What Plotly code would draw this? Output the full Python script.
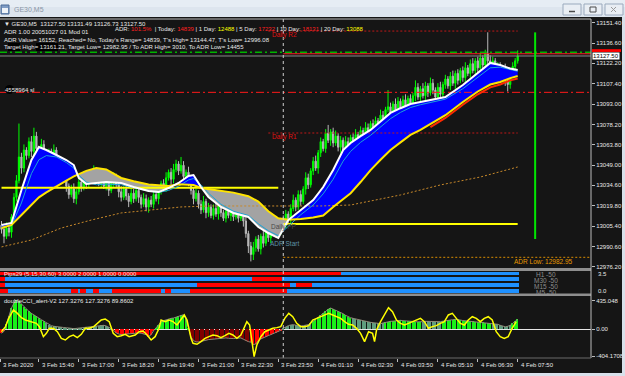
import plotly.graph_objects as go

# ---------------- data ----------------
bar_index = list(range(208))
first_open = 13006.0
closes = [
13003,12998,13004,13001,13012,13026,13038,13055,13047,13060,
13056,13066,13059,13070,13061,13056,13064,13057,13051,13058,
13049,13060,13052,13045,13049,13040,13034,13028,13032,13025,
13030,13037,13033,13041,13036,13043,13039,13045,13040,13036,
13041,13034,13038,13031,13036,13041,13035,13030,13026,13032,
13027,13023,13029,13025,13031,13026,13021,13025,13019,13024,
13021,13028,13025,13031,13036,13033,13040,13044,13039,13046,
13050,13045,13049,13041,13044,13036,13031,13025,13029,13021,
13017,13023,13015,13019,13013,13018,13014,13020,13015,13011,
13016,13013,13018,13012,13016,13011,13017,13009,13000,12991,
12985,12990,12996,12989,12998,12993,13001,12997,13004,13000,
13007,13003,13009,13006,13014,13010,13018,13024,13019,13028,
13023,13032,13040,13035,13045,13052,13047,13058,13066,13061,
13072,13067,13073,13065,13070,13062,13067,13060,13066,13062,
13069,13064,13071,13066,13074,13069,13076,13071,13079,13074,
13081,13076,13085,13080,13089,13091,13086,13093,13088,13095,
13090,13096,13091,13097,13092,13099,13105,13098,13104,13099,
13106,13101,13108,13103,13098,13105,13100,13107,13111,13106,
13113,13108,13115,13110,13117,13112,13119,13115,13122,13117,
13124,13119,13126,13121,13129,13124,13119,13124,13115,13120,
13112,13118,13110,13107,13114,13120,13124,13127.5]
upper_wick = [
3,2,4,3,2,3,4,24,3,4, 2,3,4,6,3,2,4,3,2,3, 3,4,2,3,4,2,3,2,3,4,
2,3,2,4,3,2,3,4,2,3, 3,2,4,3,2,3,2,3,4,2, 3,2,4,3,2,3,2,4,3,2,
3,4,2,3,2,3,4,2,3,4, 3,2,6,3,2,4,3,2,3,2, 3,4,2,3,2,3,4,2,3,2,
3,2,4,3,2,3,4,2,3,2, 3,4,2,3,2,4,3,2,3,4, 2,3,2,4,3,2,3,4,2,3,
3,2,4,3,2,3,4,2,3,2, 3,6,2,3,4,2,3,2,4,3, 2,3,4,2,3,2,4,3,2,3,
3,2,4,3,2,12,3,2,4,3, 2,3,4,2,3,2,5,3,2,4, 3,2,4,3,2,3,4,2,3,2,
3,4,2,3,2,3,4,2,3,4, 2,3,4,2,3,15.5,4,3,2,3, 3,2,4,3,2,3,2,4]
lower_wick = [
3,5,2,3,4,2,3,2,4,3, 3,2,4,3,2,4,3,2,3,4, 2,3,4,2,3,2,4,3,2,3,
4,2,3,2,4,3,2,3,4,2, 3,2,3,4,2,3,2,4,3,2, 3,4,2,3,2,4,3,2,3,4,
2,3,2,4,3,2,3,2,4,3, 2,3,2,4,3,2,3,4,2,3, 3,2,4,3,2,3,2,4,3,2,
3,2,4,3,2,3,2,4,3,5, 5,4,3,2,4,3,2,3,4,2, 3,2,4,3,2,3,4,2,3,2,
3,2,4,3,2,3,2,4,3,2, 3,2,4,3,2,3,4,2,3,2, 4,3,2,3,4,2,3,2,4,3,
2,3,4,2,3,2,4,3,2,3, 3,2,4,3,2,3,4,2,3,2, 4,3,2,3,2,4,3,2,3,2,
3,2,4,3,2,3,4,2,3,2, 3,4,2,3,2,3,2,4,3,2, 3,2,4,5,3,2,3,2]

ma_bars = [0,4,8,12,15,18,22,26,29,31,34,38,42,48,53,59,63,67,71,75,77,80,83,88,93,99,
           103,107,111,115,120,125,129,133,137,140,144,148,152,156,160,164,168,172,178,185,
           191,196,200,204,207]
ma_fast = [13006.2,13007.6,13031.3,13052.8,13062.1,13060.0,13056.4,13052.8,13049.2,13039.9,
           13035.6,13036.3,13037.0,13036.3,13033.4,13030.6,13029.8,13032.7,13036.3,13041.3,
           13042.0,13033.4,13026.3,13019.1,13014.8,13011.9,13004.7,13000.4,12996.8,13009.7,
           13016.9,13024.1,13033.4,13045.6,13060.0,13065.0,13070.0,13074.4,13080.5,13086.6,
           13090.0,13093.0,13094.5,13095.9,13098.0,13106.7,13115.3,13122.5,13121.0,13118.5,13117.4]
ma_slow = [13004.0,13006.2,13013.3,13020.5,13026.0,13029.5,13034.0,13038.0,13041.0,13042.5,
           13045.0,13047.1,13046.0,13039.9,13037.5,13035.2,13034.5,13034.2,13035.4,13035.2,
           13034.9,13032.7,13032.0,13031.0,13029.4,13026.8,13023.0,13016.0,13011.0,13010.0,
           13010.4,13011.5,13013.0,13019.1,13024.5,13029.0,13037.0,13045.6,13053.0,13060.0,
           13065.5,13070.8,13074.5,13078.5,13085.0,13094.5,13102.0,13107.0,13108.8,13111.6,13113.1]
ma_cyan = [13004.5,13005.5,13022,13043,13053,13056,13055,13051,13047,13042,13037,13035,13035.5,
           13035,13033,13030.5,13029.5,13031,13034,13038.5,13039.5,13035,13029,13021,13016,13013,
           13007,13002,12998.5,13005.5,13013.5,13020.5,13028.5,13039,13052,13059,13065.5,13070.5,
           13076.5,13082.5,13087,13090.5,13092.5,13094,13096.5,13104,13112,13119,13119.5,13117.5,13116.5]
ma_red_bars = [172,178,185,191,196,200,204,207]
ma_red = [13076.5,13083,13092.5,13100,13105,13107,13110,13111.4]
long_ma_bars = [0,12,24,36,48,60,72,84,100,113,128,140,160,176,192,207]
long_ma = [12990.4,12995.4,13004.0,13009.7,13014.8,13016.9,13019.1,13019.8,13019.8,13019.8,
           13019.8,13020.5,13027.7,13034.9,13040.6,13047.8]

sl_level = 13101.4
daily_r2 = 13145.4
daily_r1 = 13072.2
prev_level = 13032.9
today_level = 13006.9
adr_low = 12982.95
green_level = 13130.1
red_level = 13129.1
bid = 13127.50
t_high = 13144.47
t_low = 12996.08
day_start_bar = 113
pivot_start_bar = 107
last_bar = 207
prev_end_bar = 111
range_bar = 214

price_ticks = [13151.40,13136.60,13122.20,13107.40,13093.00,13078.20,13063.80,13049.00,
               13034.60,13019.80,13005.40,12990.60,12976.20]

xlab_bars = [-0.5,15,31,47,63,79,95,111,127,143,159,175,191,207]
xlab_text = ["3 Feb 2020","3 Feb 15:40","3 Feb 17:00","3 Feb 18:20","3 Feb 19:40","3 Feb 21:00",
             "3 Feb 22:30","3 Feb 23:50","4 Feb 01:10","4 Feb 02:30","4 Feb 03:50","4 Feb 05:10",
             "4 Feb 06:30","4 Feb 07:50"]

pips_rows = ["H1","M30","M15","M5"]
pips_row_val = [4,3,2,1]
pips_edges = [
    [-0.5,136,207.5],
    [-0.5,1.5,100.5,112.5,207.5],
    [-0.5,1.5,78.5,115.5,118,124.5,207.5],
    [-0.5,2.5,28,30.5,31.5,34,36.5,39,44.5,64,65.5,68,75.5,114.5,207.5]]
pips_state = [
    [0,1],
    [0,1,0,1],
    [0,1,0,1,0,1],
    [0,1,0,1,0,1,0,1,0,1,0,1,0,1]]

cci_hist = [
-60,-30,80,200,320,395,440,420,380,335,
300,270,240,220,200,170,145,120,95,70,
55,45,38,33,30,27,24,18,12,10,
14,18,20,26,30,35,40,45,50,55,
58,60,50,36,10,-15,-55,-70,-80,-75,
-70,-65,-60,-55,-50,-55,-60,-65,-80,-110,
-80,-20,25,70,110,130,145,155,165,170,
185,200,210,220,150,20,-115,-170,-190,-190,
-185,-175,-165,-155,-150,-145,-140,-138,-135,-132,
-130,-135,-140,-140,-135,-130,-130,-150,-170,-185,
-195,-230,-220,-170,-145,-125,-110,-95,-80,-65,
-52,-35,-15,15,40,55,65,70,62,55,
50,55,62,70,90,120,160,190,210,245,
275,300,320,305,290,275,255,235,210,190,
175,165,155,145,135,125,118,112,105,100,
95,90,85,95,105,115,120,122,128,132,
135,130,125,122,120,118,115,112,110,115,
120,118,115,112,110,112,115,122,130,135,
140,145,150,148,140,132,128,124,122,120,
115,110,108,104,100,100,95,90,85,75,
60,48,38,45,60,90,120,150]
cci_state_edges = [-0.5,1.5,17.5,44.5,61.5,75.5,99.5,112.5,124.5,140.5,153.5,168.5,176.5,196.5,204.5,207.5]
cci_state = ['dn','up','flat','dn','up','dn2','dn','flat','up','flat','up','flat','up','flat','up']
cci_fast_bars = [0,1.6,2.9,4,4.8,6.4,8,9.6,12,14,15.2,16,16.8,18,19.2,20.8,22.4,24,25.6,27.2,
 28.8,30.4,32,33.6,35.2,37,38.4,40,41.6,43.2,44.8,46.4,48,49.6,51.2,53.6,55.2,56.8,58.4,60,
 61.6,63.2,64,65.6,67.2,68.8,70.4,72,73.3,74.4,75.2,76,76.8,78.4,80,81.6,83.2,84.8,86.4,88,
 89.6,91.2,92.8,94.4,96,98.4,99.5,100.8,101.3,102.4,104,105.6,107.2,108.8,110.4,112,113.6,115.2,116.8,118.4,
 120,121.6,123.2,124.8,126.4,128,129.6,131.2,132.8,134.4,136,137.6,139.2,140.8,142.4,144,145.6,147.2,148.8,149.6,
 150.4,152,153.6,155.2,156.8,158.4,160,161.6,163.2,164.8,166.4,168,169.6,171.2,172.8,174.4,176,177.6,179.2,180.8,
 182.4,184,185.6,187.2,188.8,190.4,192,193.6,195.2,196.8,198.4,200,201.6,203.2,204.8,206.4]
cci_fast = [-36,40,165,240,291,240,175,140,115,90,40,-36,-111,-61,15,15,-36,-136,-161,-111,
 -86,-126,-76,15,15,40,90,140,155,115,-61,-111,-96,-76,-111,-86,-36,-26,-86,-161,
 -111,15,140,115,140,115,65,140,216,140,15,-136,-211,-226,-186,-136,-111,-86,-96,-126,
 -96,-61,-86,-136,-86,115,65,-287,-412,-237,-111,-36,-11,15,25,40,165,240,190,90,
 40,40,55,140,165,190,226,240,216,190,165,115,75,65,15,-61,-186,-36,-61,-186,
 -11,115,216,326,266,140,90,65,90,115,140,165,115,15,40,55,90,115,216,240,
 165,90,65,140,190,165,115,165,190,140,-36,-111,-136,-111,15,115]
cci_ticks = [435.048, 0.0, -404.1708]
cci_ticktext = ["435.048", "0.00", "-404.1708"]

assert len(closes) == len(upper_wick) == len(lower_wick) == len(bar_index) == len(cci_hist)
assert len(ma_bars) == len(ma_fast) == len(ma_slow) == len(ma_cyan)
assert len(cci_fast_bars) == len(cci_fast)

# ---------------- layout helpers ----------------
FONT = "Liberation Sans, Arial, sans-serif"
W, H = 625, 376
M = dict(l=0, r=34, t=19, b=18)
PW = W - M['l'] - M['r']
PH = H - M['t'] - M['b']
def xp(px): return (px - M['l']) / PW
def yp(py): return (H - M['b'] - py) / PH

BG = '#151515'
X_RANGE = [-0.6, 236.4]

fig = go.Figure()

# ---- MA ribbon fill ----
def runs_of(xs, a, b):
    runs, cur = [], None
    for i in range(len(xs)):
        s = a[i] >= b[i]
        if cur is None:
            cur = [s, [xs[i]], [a[i]], [b[i]]]
            continue
        if s != cur[0]:
            d0 = a[i-1] - b[i-1]; d1 = a[i] - b[i]
            t = d0 / (d0 - d1)
            xi = xs[i-1] + t * (xs[i] - xs[i-1])
            yi = a[i-1] + t * (a[i] - a[i-1])
            cur[1].append(xi); cur[2].append(yi); cur[3].append(yi)
            runs.append(cur)
            cur = [s, [xi, xs[i]], [yi, a[i]], [yi, b[i]]]
        else:
            cur[1].append(xs[i]); cur[2].append(a[i]); cur[3].append(b[i])
    runs.append(cur)
    return runs

runs = runs_of(ma_bars, ma_fast, ma_slow)
for want, col in ((True, '#0000ff'), (False, '#a3a3a3')):
    xs, ys = [], []
    for s, rx, ra, rb in runs:
        if s != want:
            continue
        xs += rx + rx[::-1] + [rx[0], None]
        ys += ra + rb[::-1] + [ra[0], None]
    fig.add_trace(go.Scatter(x=xs, y=ys, mode='lines', fill='toself', fillcolor=col,
                             line=dict(width=0), hoverinfo='skip'))

# long MA
fig.add_trace(go.Scatter(x=long_ma_bars, y=long_ma, mode='lines',
                         line=dict(color='#c8892a', width=1, dash='2px,2px'), hoverinfo='skip'))

def hline(x0, x1, y, color, width=1, dash='solid'):
    fig.add_trace(go.Scatter(x=[x0, x1], y=[y, y], mode='lines',
                             line=dict(color=color, width=width, dash=dash), hoverinfo='skip'))

hline(X_RANGE[0], X_RANGE[1], sl_level, '#ff1a1a', 1, '8px,3px,2px,3px')
hline(pivot_start_bar, last_bar, daily_r2, '#c01818', 1, '2px,2px')
hline(pivot_start_bar, last_bar, daily_r1, '#c01818', 1, '2px,2px')
hline(0, prev_end_bar, prev_level, '#ffff00', 2)
hline(day_start_bar, last_bar, today_level, '#ffff00', 2)
hline(day_start_bar, X_RANGE[1], adr_low, '#d98c00', 1, '2px,2px')
hline(X_RANGE[0], X_RANGE[1], bid, '#8a8a8a', 1)
hline(X_RANGE[0], X_RANGE[1], green_level, '#00b400', 1.5, '7px,3px,2px,3px')
hline(day_start_bar, X_RANGE[1], red_level, '#ff2020', 1)

# candles
opens = [first_open] + closes[:-1]
highs = [max(o, c) + u for o, c, u in zip(opens, closes, upper_wick)]
lows = [min(o, c) - l for o, c, l in zip(opens, closes, lower_wick)]
fig.add_trace(go.Candlestick(x=bar_index, open=opens, high=highs, low=lows, close=closes,
                             increasing=dict(line=dict(color='#00ff00', width=1), fillcolor='#00ff00'),
                             decreasing=dict(line=dict(color='#b8b8b8', width=1), fillcolor='#b8b8b8'),
                             whiskerwidth=0, hoverinfo='skip'))

# MA lines
fig.add_trace(go.Scatter(x=ma_bars, y=ma_cyan, mode='lines', line=dict(color='#1aa3d9', width=1), hoverinfo='skip'))
fig.add_trace(go.Scatter(x=ma_red_bars, y=ma_red, mode='lines', line=dict(color='#ff2a00', width=2), hoverinfo='skip'))
fig.add_trace(go.Scatter(x=ma_bars, y=ma_slow, mode='lines', line=dict(color='#ffe400', width=2), hoverinfo='skip'))
fig.add_trace(go.Scatter(x=ma_bars, y=ma_fast, mode='lines', line=dict(color='#ffffff', width=2), hoverinfo='skip'))

# today's range bar
fig.add_trace(go.Scatter(x=[range_bar, range_bar], y=[t_low, t_high], mode='lines',
                         line=dict(color='#00e600', width=2), hoverinfo='skip'))

# ---- Pips panel ----
for rv, edges, states in zip(pips_row_val, pips_edges, pips_state):
    starts = edges[:-1]
    lens = [b - a for a, b in zip(edges[:-1], edges[1:])]
    cols = ['#1e90ff' if s else '#ff0000' for s in states]
    fig.add_trace(go.Bar(orientation='h', y=[rv] * len(starts), x=lens, base=starts, width=0.58,
                         marker=dict(color=cols, line=dict(width=0)), xaxis='x', yaxis='y2',
                         hoverinfo='skip'))

# ---- CCI panel ----
state_col = {'up': '#19f019', 'flat': '#5f9d7e', 'dn': '#ff0000', 'dn2': '#800000'}
hist_cols = []
for i in bar_index:
    for k in range(len(cci_state)):
        if cci_state_edges[k] <= i < cci_state_edges[k + 1]:
            hist_cols.append(state_col[cci_state[k]])
            break
fig.add_trace(go.Bar(x=bar_index, y=cci_hist, width=0.6, marker=dict(color=hist_cols, line=dict(width=0)),
                     xaxis='x', yaxis='y3', hoverinfo='skip'))
fig.add_trace(go.Scatter(x=bar_index, y=cci_hist, mode='lines', line=dict(color='#8f8a78', width=1),
                         xaxis='x', yaxis='y3', hoverinfo='skip'))
fig.add_trace(go.Scatter(x=cci_fast_bars, y=cci_fast, mode='lines', line=dict(color='#ffff00', width=1.5),
                         xaxis='x', yaxis='y3', hoverinfo='skip'))

# ---------------- shapes ----------------
shapes = []
def prect(x0, y0, x1, y1, fill, line_color=None, lw=0, layer='above', typ='rect'):
    shapes.append(dict(type=typ, xref='paper', yref='paper', x0=xp(x0), x1=xp(x1), y0=yp(y1), y1=yp(y0),
                       fillcolor=fill, line=dict(color=line_color or fill, width=lw), layer=layer))
def pline(x0, y0, x1, y1, color, lw=1):
    shapes.append(dict(type='line', xref='paper', yref='paper', x0=xp(x0), x1=xp(x1), y0=yp(y0), y1=yp(y1),
                       line=dict(color=color, width=lw)))

# day separator
shapes.append(dict(type='line', xref='x', yref='paper', x0=day_start_bar, x1=day_start_bar, y0=0, y1=1,
                   line=dict(color='#d0d0d0', width=1, dash='3px,3px')))
# panel separators
prect(0, 268, 591, 271, '#8e8e8e')
prect(0, 293.5, 591, 296, '#8e8e8e')
# frame
pline(0, 19, 591, 19, '#bdbdbd')
pline(591, 19, 591, 358, '#bdbdbd')
pline(0, 358, 591, 358, '#6a6a6a')
# window chrome
prect(0, 0, 625, 17, '#dde5ee')
prect(0, 0, 625, 7, '#e6edf4')
prect(1, 5, 9, 14, '#7f9cc4', '#4a6a98', 1)
prect(2, 8, 8, 13, '#eef3f9')
prect(622, 17, 625, 376, '#d8e0ea')
prect(0, 373, 625, 376, '#d8e0ea')
for bx in (563, 584, 605):
    prect(bx, 4, bx + 18, 15, '#e9eef4', '#9aa9bd', 1)
pline(569, 11.5, 575, 11.5, '#4a4a4a', 1.5)
prect(590, 7, 596, 12, 'rgba(0,0,0,0)', '#4a4a4a', 1)
pline(611, 7, 616, 12, '#9a9a9a', 1)
pline(611, 12, 616, 7, '#9a9a9a', 1)
# current price box marker
shapes.append(dict(type='rect', xref='paper', yref='y', x0=xp(592), x1=xp(621), y0=13130.4, y1=13132.4,
                   fillcolor='#ff0000', line=dict(width=0)))
# censoring blobs
prect(8, 43, 20, 51, '#000000')
prect(36, 43, 58, 51, '#000000')
prect(5, 85, 14, 94, '#000000', typ='circle')

# ---------------- annotations ----------------
ann = []
def label(px, py, text, color='#e8e8e8', size=6, xanchor='left'):
    ann.append(dict(x=xp(px), y=yp(py), xref='paper', yref='paper', text=text, showarrow=False,
                    xanchor=xanchor, yanchor='middle', font=dict(size=size, color=color, family=FONT)))

label(12, 9.5, 'GE30,M5', '#8a96a6', 7)
label(2, 24, '▼ GE30,M5  13127.50 13131.49 13126.73 13127.50')
label(113, 29.3, "ADR: <span style='color:#ff2020'>101.5%</span>  | Today: <span style='color:#ff2020'>14839</span>"
      " | 1 Day: <span style='color:#ffff00'>12488</span> | 5 Day: <span style='color:#ff2020'>17232</span>"
      " | 10 Day: <span style='color:#ff2020'>18131</span> | 20 Day: <span style='color:#ffff00'>13088</span>")
label(2, 32.3, 'ADR 1.00 20051027 01 Mod 01')
label(2, 39.5, "ADR Value= 16152, Reached= No, Today's Range= 14839, T's High= 13144.47, T's Low= 12996.08")
label(2, 47.3, 'Target High= 13161.21, Target Low= 12982.95 / To ADR High= 3010, To ADR Low= 14455')
label(3, 89.5, '4558964 sl')
label(270, 35, 'Daily R2', '#e01010', 6.5)
label(270, 137, 'Daily R1', '#e01010', 6.5)
label(269, 227, 'Daily PP', '#4a4a4a', 6.5)
label(268, 243, 'ADR Start', '#5f93a6', 6.5)
label(512, 261.5, 'ADR Low: 12982.95', '#e69a00', 6.5)
ann.append(dict(x=xp(592), y=bid, xref='paper', yref='y', text='13127.50', showarrow=False, xanchor='left',
                yanchor='middle', bgcolor='#ffffff', borderpad=0,
                font=dict(size=6, color='#000000', family=FONT)))
# pips panel
label(2, 274, 'Pips29 (5,15,30,60) 3.0000 2.0000 1.0000 0.0000')
for name, rv in zip(pips_rows, pips_row_val):
    ann.append(dict(x=xp(546), y=rv, xref='paper', yref='y2', yshift=-1.5, text=name + ' -50',
                    showarrow=False, xanchor='center', yanchor='middle',
                    font=dict(size=6.5, color='#8c8c8c', family=FONT)))
label(596, 274, '3.5')
label(596, 290.5, '0.0')
# CCI panel
label(2, 300.5, 'doubleCCI_alert-V2 127.3276 127.3276 89.8602')
# time labels
for b, t in zip(xlab_bars, xlab_text):
    ann.append(dict(x=b, y=yp(364.5), xref='x', yref='paper', text=t, showarrow=False, xanchor='left',
                    yanchor='middle', xshift=1, font=dict(size=6, color='#e8e8e8', family=FONT)))

tickfont = dict(size=6, color='#e8e8e8', family=FONT)
fig.update_layout(
    width=W, height=H, margin=dict(l=M['l'], r=M['r'], t=M['t'], b=M['b'], pad=0),
    paper_bgcolor=BG, plot_bgcolor=BG, showlegend=False, barmode='overlay', bargap=0,
    xaxis=dict(range=X_RANGE, anchor='y3', showgrid=False, zeroline=False, showticklabels=False,
               ticks='outside', ticklen=3, tickcolor='#bdbdbd', tickvals=xlab_bars,
               rangeslider=dict(visible=False), showline=False, fixedrange=True),
    yaxis=dict(domain=[yp(268), 1], range=[12975.27, 13154.06], side='right', anchor='x',
               showgrid=False, zeroline=False, tickvals=price_ticks,
               ticktext=['%.2f' % v for v in price_ticks], ticks='outside', ticklen=3,
               tickcolor='#bdbdbd', tickfont=tickfont, showline=False),
    yaxis2=dict(domain=[yp(293.5), yp(271)], range=[0.576, 4.39], anchor='x', showgrid=False,
                zeroline=False, showticklabels=False, showline=False),
    yaxis3=dict(domain=[0, yp(296)], range=[-432.5, 501.8], side='right', anchor='x', showgrid=False,
                zeroline=True, zerolinecolor='#e6e6e6', zerolinewidth=1, tickvals=cci_ticks,
                ticktext=cci_ticktext, ticks='outside', ticklen=3, tickcolor='#bdbdbd',
                tickfont=tickfont, showline=False),
    shapes=shapes, annotations=ann,
)

fig.write_html("out.html")
